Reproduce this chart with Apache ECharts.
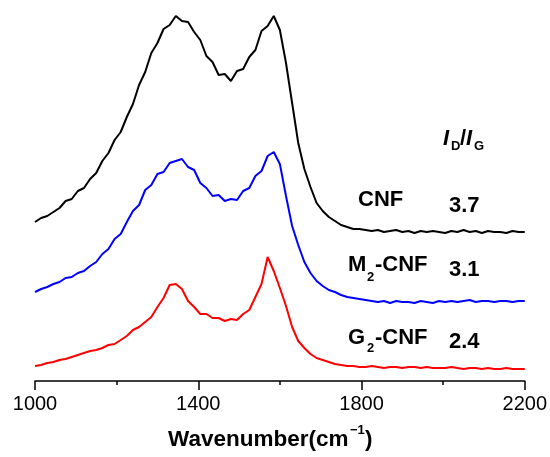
<!DOCTYPE html>
<html>
<head>
<meta charset="utf-8">
<script src="https://cdn.jsdelivr.net/npm/echarts@6/dist/echarts.min.js"></script>
<style>
  html, body { margin: 0; padding: 0; background: #fff; }
  #main { width: 550px; height: 457px; }
</style>
</head>
<body>
<div id="main"></div>
<script>
// Raman shift grid (cm-1), read every 15 units
const wavenumber = [1000,1015,1030,1045,1060,1075,1090,1105,1120,1135,1150,1165,1180,1195,1210,1225,1240,1255,1270,1285,
  1300,1315,1330,1345,1360,1375,1390,1405,1420,1435,1450,1465,1480,1495,1510,1525,1540,1555,1570,1585,
  1600,1615,1630,1645,1660,1675,1690,1705,1720,1735,1750,1765,1780,1795,1810,1825,1840,1855,1870,1885,
  1900,1915,1930,1945,1960,1975,1990,2005,2020,2035,2050,2065,2080,2095,2110,2125,2140,2155,2170,2185,2200];

// intensities (offset, arbitrary units)
const cnf = [159,163,165,169,173,180,182,190,193,202,208,220,228,241,249,264,277,296,309,328,
  338,352,356,365,360,359,349,341,325,319,306,307,300,310,312,324,331,350,355,365,
  351,318,278,238,212,194,178,170,164,160,156,154,152,152,151,150,151,149,150,151,
  149,150,148,150,149,150,149,148,150,149,151,149,150,148,150,149,149,148,150,149,149];

const m2cnf = [89,92,94,97,99,103,104,108,110,115,119,127,132,142,147,159,170,176,191,196,
  207,209,218,220,222,214,211,198,193,185,186,180,182,181,190,193,205,210,225,229,
  217,185,155,136,119,108,100,95,91,89,86,84,83,82,81,80,79,80,78,80,
  79,79,78,80,79,78,80,79,80,79,80,81,79,80,80,79,80,80,79,80,80];

const g2cnf = [15,16,18,19,21,22,24,26,28,30,31,33,36,37,41,45,51,54,59,64,
  74,83,96,97,92,80,74,67,67,63,63,60,62,61,67,71,84,97,124,110,
  93,75,54,40,33,27,23,21,19,17,16,15,15,14,14,15,14,13,14,14,
  13,14,14,13,14,13,13,13,14,13,12,13,13,12,13,12,12,13,12,12,12];

const xTicks = [1000, 1400, 1800, 2200];
const ratioLabels = ['3.7', '3.1', '2.4'];

const colors = ['#000000', '#0000ff', '#ff0000'];
const font = '"Liberation Sans", Arial, sans-serif';

const pairs = ys => wavenumber.map((x, i) => [x, ys[i]]);

const chart = echarts.init(document.getElementById('main'), null, { renderer: 'canvas' });

const txt = (left, y, text, size, extra) => ({
  type: 'text',
  left: left,
  top: y - size / 2,
  style: Object.assign({
    text: text,
    fill: '#000',
    font: 'bold ' + size + 'px ' + font
  }, extra || {})
});

const option = {
  animation: false,
  backgroundColor: '#fff',
  grid: { left: 35, right: 24, top: 11, bottom: 76 },
  xAxis: {
    type: 'value',
    min: 1000,
    max: 2200,
    interval: 400,
    axisLine: { lineStyle: { color: '#000', width: 1.5 } },
    axisTick: { length: 9, lineStyle: { color: '#000', width: 1.5 } },
    minorTick: { show: true, splitNumber: 2, length: 4, lineStyle: { color: '#000', width: 1.5 } },
    splitLine: { show: false },
    axisLabel: {
      margin: 13,
      color: '#000',
      fontSize: 20,
      fontFamily: font,
      formatter: v => (xTicks.indexOf(v) >= 0 ? String(v) : '')
    }
  },
  yAxis: {
    type: 'value',
    min: 0,
    max: 370,
    show: false
  },
  series: [cnf, m2cnf, g2cnf].map((d, i) => ({
    type: 'line',
    data: pairs(d),
    showSymbol: false,
    lineStyle: { color: colors[i], width: 2 },
    z: 3 - i
  })),
  graphic: [
    // axis title
    txt(168, 440, 'Wavenumber(cm', 22.5),
    txt(350, 430, '\u22121', 13),
    txt(365, 440, ')', 22.5),
    // I_D / I_G header
    txt(443, 139, 'I', 22, { font: 'italic bold 22px ' + font }),
    txt(451, 146, 'D', 13),
    txt(460, 139, '/', 22),
    txt(466, 139, 'I', 22, { font: 'italic bold 22px ' + font }),
    txt(474, 146, 'G', 13),
    // sample names
    txt(358, 200, 'CNF', 22),
    txt(348, 265, 'M', 22),
    txt(367, 277, '2', 13),
    txt(375, 265, '-CNF', 22),
    txt(348, 338, 'G', 22),
    txt(367, 348, '2', 13),
    txt(375, 338, '-CNF', 22),
    // ratios
    txt(449, 206, ratioLabels[0], 22),
    txt(449, 270, ratioLabels[1], 22),
    txt(449, 342, ratioLabels[2], 22)
  ]
};

chart.setOption(option);
</script>
</body>
</html>
